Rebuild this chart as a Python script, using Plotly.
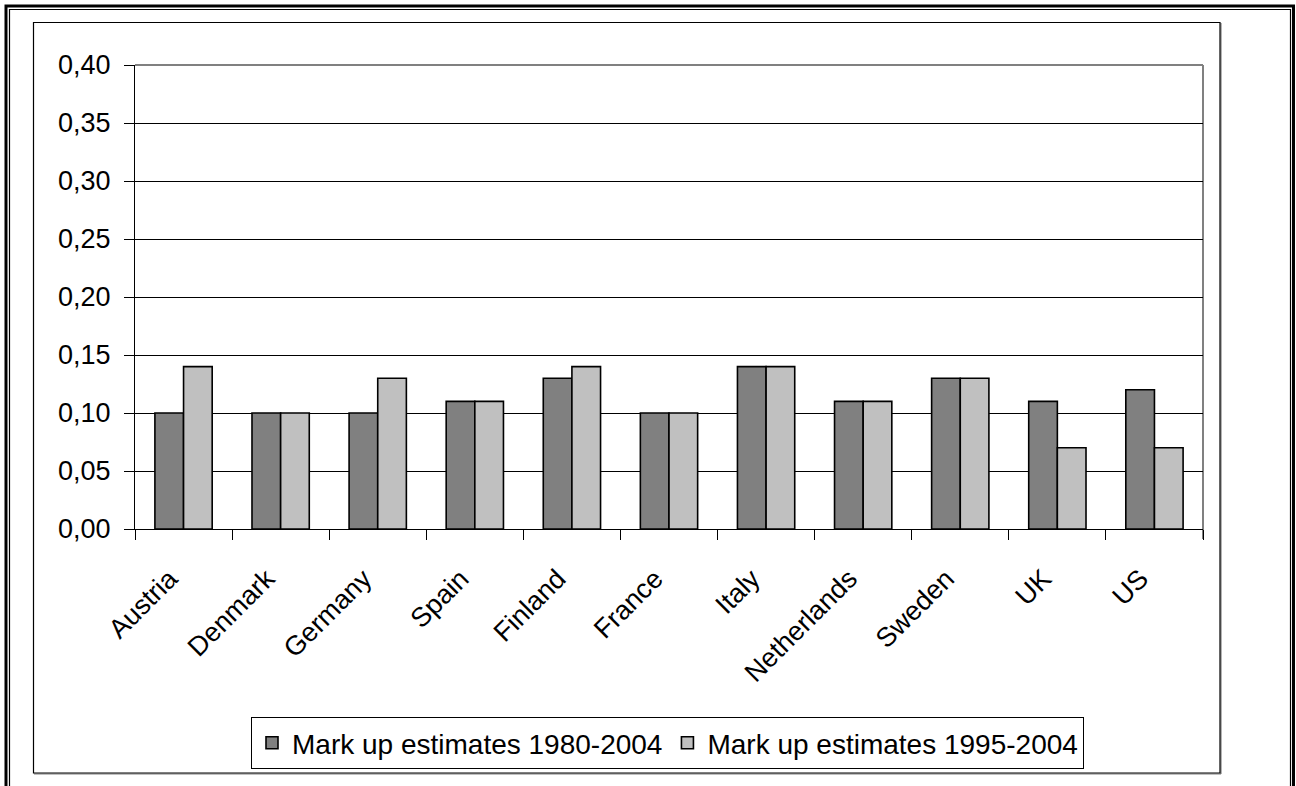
import plotly.graph_objects as go

countries = ["Austria", "Denmark", "Germany", "Spain", "Finland", "France",
             "Italy", "Netherlands", "Sweden", "UK", "US"]
markup_1980_2004 = [0.10, 0.10, 0.10, 0.11, 0.13, 0.10, 0.14, 0.11, 0.13, 0.11, 0.12]
markup_1995_2004 = [0.14, 0.10, 0.13, 0.11, 0.14, 0.10, 0.14, 0.11, 0.13, 0.07, 0.07]
series_names = ["Mark up estimates 1980-2004", "Mark up estimates 1995-2004"]
y_ticks = [0.00, 0.05, 0.10, 0.15, 0.20, 0.25, 0.30, 0.35, 0.40]

W, H = 1296, 786
# plot area in page pixels
L, R, T, B = 135, 1203, 65, 529


def px(x, y):
    # page pixel -> paper coordinates
    return (x - L) / (R - L), (B - y) / (B - T)


fig = go.Figure()
fig.add_trace(go.Bar(x=countries, y=markup_1980_2004, name=series_names[0],
                     marker=dict(color="#808080", line=dict(color="black", width=1.6))))
fig.add_trace(go.Bar(x=countries, y=markup_1995_2004, name=series_names[1],
                     marker=dict(color="#C0C0C0", line=dict(color="black", width=1.6))))

shapes = []


def rect(x0, y0, x1, y1, color, width):
    a0, b0 = px(x0, y0)
    a1, b1 = px(x1, y1)
    shapes.append(dict(type="rect", xref="paper", yref="paper", x0=a0, y0=b1, x1=a1, y1=b0,
                       line=dict(color=color, width=width), fillcolor="rgba(0,0,0,0)", layer="below"))


def line(x0, y0, x1, y1, color, width, layer="above"):
    a0, b0 = px(x0, y0)
    a1, b1 = px(x1, y1)
    shapes.append(dict(type="line", xref="paper", yref="paper", x0=a0, y0=b0, x1=a1, y1=b1,
                       line=dict(color=color, width=width), layer=layer))


# outer double frame
rect(6, 6, 1293.5, 820, "black", 3)
rect(9.5, 9.5, 1290.5, 820, "black", 1.2)
# chart area frame with shadow
line(1221, 23, 1221, 774, "#808080", 1.2, "below")
line(34, 774, 1221, 774, "#808080", 1.2, "below")
rect(33.5, 22.5, 1220, 773, "black", 1.2)
# plot area top/right border (gray)
line(L, T, R, T, "#808080", 2, "below")
line(R, T, R, B + 10, "#808080", 2, "below")

fig.update_layout(
    width=W, height=H,
    margin=dict(l=L, r=W - R, t=T, b=H - B, autoexpand=False),
    paper_bgcolor="white", plot_bgcolor="white",
    font=dict(family="Liberation Sans, Arial, sans-serif", size=26, color="black"),
    separators=", ",
    barmode="group", bargap=0.41, bargroupgap=0.0,
    showlegend=True,
    legend=dict(orientation="h", x=px(667.5, 0)[0], xanchor="center", y=px(0, 717)[1], yanchor="top",
                bordercolor="black", borderwidth=1, bgcolor="white",
                font=dict(size=28), itemwidth=30, tracegroupgap=0),
    shapes=shapes,
    xaxis=dict(type="category", showgrid=False, showline=True, linecolor="black", linewidth=1.2,
               ticks="outside", ticklen=10, tickcolor="black", tickwidth=1.2, tickson="boundaries",
               tickangle=-45, tickfont=dict(size=27), ticklabelstandoff=22, ticklabelshift=-14),
    yaxis=dict(range=[0, 0.40], tickvals=y_ticks, tickformat=".2f", showgrid=True,
               gridcolor="black", gridwidth=1, showline=True, linecolor="black", linewidth=1.2,
               ticks="outside", ticklen=10, tickcolor="black", tickwidth=1.2, zeroline=False,
               tickfont=dict(size=27), ticklabelstandoff=8),
)

fig.write_html("out.html", config={"displayModeBar": False},
               post_script="document.body.style.margin='0';")
